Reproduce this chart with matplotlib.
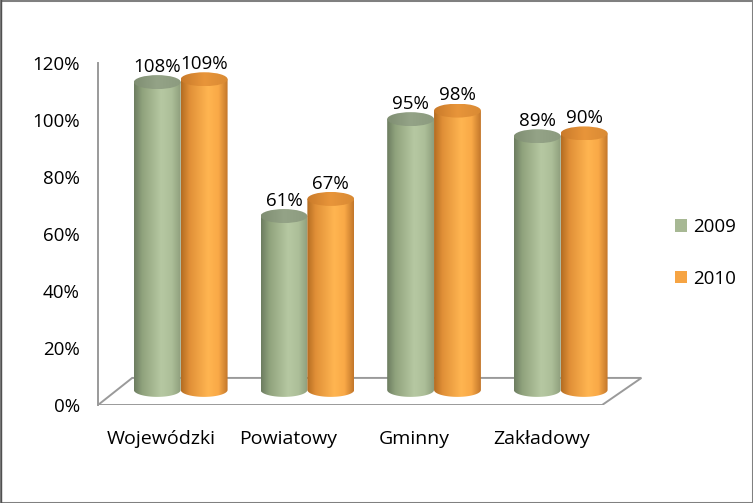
import matplotlib
matplotlib.use('Agg')
import matplotlib.pyplot as plt
import numpy as np
from matplotlib.colors import LinearSegmentedColormap
from matplotlib.patches import Ellipse, Polygon, Patch, Rectangle
from matplotlib.lines import Line2D

categories = ['Wojewódzki', 'Powiatowy', 'Gminny', 'Zakładowy']
series_names = ['2009', '2010']
values_2009 = [108, 61, 95, 89]
values_2010 = [109, 67, 98, 90]
y_ticks = [0, 20, 40, 60, 80, 100, 120]

plt.rcParams['font.family'] = ['Open Sans', 'DejaVu Sans']

W, H = 753, 503
fig = plt.figure(figsize=(W / 100, H / 100), dpi=100)
ax = fig.add_axes([98 / W, 98 / H, 551 / W, 342 / H])

# body and top gradients (left -> right)
green_body = LinearSegmentedColormap.from_list('gb', [
    (0.0, '#6c7c60'), (0.18, '#90a37d'), (0.58, '#b6c8a2'),
    (0.8, '#adbf99'), (1.0, '#8e9e7c')])
green_top = LinearSegmentedColormap.from_list('gt', ['#7f8e72', '#94a387', '#8c9b7f'])
orange_body = LinearSegmentedColormap.from_list('ob', [
    (0.0, '#b36c22'), (0.18, '#e08f37'), (0.58, '#ffb551'),
    (0.8, '#f9a947'), (1.0, '#c2762a')])
orange_top = LinearSegmentedColormap.from_list('ot', ['#c97a2a', '#e8953a', '#d98a34'])

bar_w = 0.37
base = 5.3
ell_h = 4.9
depth_dx, depth_dy = 0.27, 9.5
grad = np.linspace(0, 1, 256).reshape(1, -1)


def cylinder(xc, value, body_cmap, top_cmap, z):
    top = base + value
    x0, x1 = xc - bar_w / 2, xc + bar_w / 2
    t = np.linspace(np.pi, 2 * np.pi, 60)
    bottom_arc = np.column_stack([xc + bar_w / 2 * np.cos(t), base + ell_h / 2 * np.sin(t)])
    verts = np.vstack([bottom_arc, [[x1, top], [x0, top]]])
    body = Polygon(verts, closed=True, facecolor='none', edgecolor='none', zorder=z)
    ax.add_patch(body)
    im = ax.imshow(grad, extent=[x0, x1, base - ell_h / 2, top], aspect='auto',
                   cmap=body_cmap, interpolation='bilinear', zorder=z)
    im.set_clip_path(body)
    cap = Ellipse((xc, top), bar_w, ell_h, facecolor='none', edgecolor='none', zorder=z + 0.1)
    ax.add_patch(cap)
    im2 = ax.imshow(grad, extent=[x0, x1, top - ell_h / 2, top + ell_h / 2], aspect='auto',
                    cmap=top_cmap, interpolation='bilinear', zorder=z + 0.1)
    im2.set_clip_path(cap)
    ax.text(xc, top + 3.6, f'{value}%', ha='center', va='baseline', fontsize=13.5,
            color='black', zorder=10)


# floor
floor = Polygon([(0, 0), (3.98, 0), (3.98 + depth_dx + 0.04, depth_dy), (depth_dx, depth_dy)],
                closed=True, facecolor='white', edgecolor='#9a9a9a', lw=1.4, zorder=1)
ax.add_patch(floor)

for i in range(len(categories)):
    cylinder(i + 0.468, values_2009[i], green_body, green_top, 3)
    cylinder(i + 0.838, values_2010[i], orange_body, orange_top, 4)

ax.set_xlim(0, 4.35)
ax.set_ylim(0, 120)

for s in ['top', 'right', 'bottom']:
    ax.spines[s].set_visible(False)
ax.spines['left'].set_color('#9a9a9a')
ax.spines['left'].set_linewidth(1.4)

ax.set_yticks(y_ticks)
ax.set_yticklabels([f'{v}%' for v in y_ticks])
ax.set_xticks([i + 0.5 for i in range(len(categories))])
ax.set_xticklabels(categories)
ax.tick_params(axis='y', length=0, pad=13, labelsize=13.5)
ax.tick_params(axis='x', length=0, pad=18, labelsize=14)

handles = [Patch(facecolor='#a7b894'), Patch(facecolor='#f6a443')]
fig.legend(handles, series_names, loc='center left', bbox_to_anchor=(675 / W, 1 - 253 / H),
           frameon=False, fontsize=13.5, handlelength=0.62, handleheight=0.62,
           handletextpad=0.35, labelspacing=1.8, borderpad=0, borderaxespad=0)

# outer frame
fig.patches.append(Rectangle((0, 0), 1, 1, transform=fig.transFigure, fill=False,
                             edgecolor='#808080', lw=2.2))
fig.lines.append(Line2D([0.6 / W, 0.6 / W], [0, 1], transform=fig.transFigure,
                        color='#505050', lw=1.0))

fig.savefig('out.png', dpi=100)
